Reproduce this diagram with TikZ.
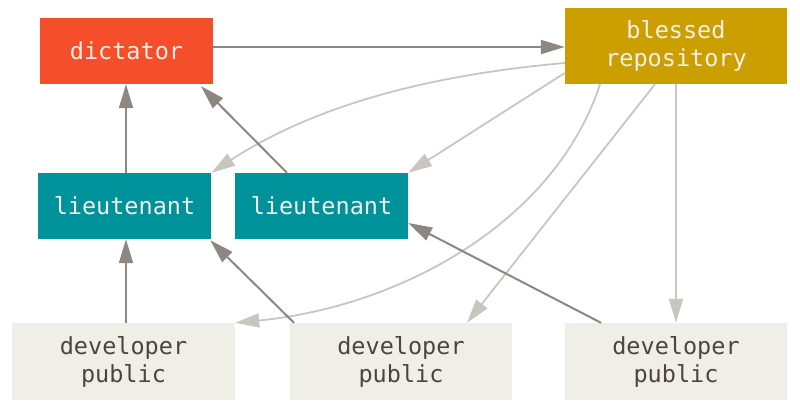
\documentclass[tikz,border=0pt]{standalone}
\usepackage{fontspec}
\setmonofont{DejaVu Sans Mono}
\usetikzlibrary{arrows.meta,calc}
\definecolor{dictred}{HTML}{F44E2A}
\definecolor{blessgold}{HTML}{CC9F00}
\definecolor{lieuteal}{HTML}{00929A}
\definecolor{devgrey}{HTML}{F0EFE7}
\definecolor{devtext}{HTML}{4E443C}
\definecolor{boxtext}{HTML}{F0EFE7}
\definecolor{pushgrey}{HTML}{8D8781}
\definecolor{pullgrey}{HTML}{C9C6C0}
\tikzset{
	box/.style={inner sep=0pt, align=center, font=\ttfamily\fontsize{23.5}{28}\selectfont},
	dictbox/.style={box, fill=dictred, text=boxtext, minimum width=173pt, minimum height=66pt},
	blessbox/.style={box, fill=blessgold, text=boxtext, minimum width=222pt, minimum height=76pt},
	lieubox/.style={box, fill=lieuteal, text=boxtext, minimum width=173pt, minimum height=66pt},
	devbox/.style={box, fill=devgrey, text=devtext, minimum width=222pt, minimum height=77pt},
	push/.style={-{Triangle[length=24pt,width=14pt]}, line width=2pt, color=pushgrey},
	pull/.style={-{Triangle[length=24pt,width=14pt]}, line width=1.8pt, color=pullgrey},
}
\begin{document}
\begin{tikzpicture}[x=1pt, y=1pt]
		%%%%% START %%%%%
		\useasboundingbox (0, 0) rectangle (800, 412);
		
		\node[dictbox] (dictator) at (126.5, 361) {dictator};
		\node[blessbox] (blessed) at (676, 366) {blessed\\repository};
		
		\node[lieubox] (lieut1) at (124.5, 206) {lieutenant};
		\node[lieubox] (lieut2) at (321.5, 206) {lieutenant};
		
		\node[devbox, minimum width=223pt] (dev1) at (123.5, 50.5) {developer\\public};
		\node[devbox] (dev2) at (401, 50.5) {developer\\public};
		\node[devbox] (dev3) at (676, 50.5) {developer\\public};
		
		% pulls from the blessed repository
		\draw[pull] ([yshift=-17pt]blessed.west) .. controls +(-125, -11) and +(109, 71) .. (lieut1.north east);
		\draw[pull] ([yshift=-27pt]blessed.west) -- (lieut2.north east);
		\draw[pull] ([xshift=-76pt]blessed.south) .. controls +(-45, -138) and +(165, 16) .. (dev1.north east);
		\draw[pull] ([xshift=-21pt]blessed.south) -- ([xshift=66pt]dev2.north);
		\draw[pull] (blessed.south) -- (dev3.north);
		
		% pushes up the chain
		\draw[push] ([yshift=4pt]dictator.east) -- ([yshift=-1pt]blessed.west);
		\draw[push] ([xshift=1.5pt]lieut1.north) -- ([xshift=-0.5pt]dictator.south);
		\draw[push] ([xshift=-34.5pt]lieut2.north) -- ([xshift=74.5pt, yshift=-2pt]dictator.south);
		\draw[push] ([xshift=2.5pt]dev1.north) -- ([xshift=1.5pt]lieut1.south);
		\draw[push] ([xshift=-107pt]dev2.north) -- ([xshift=-1pt, yshift=-1pt]lieut1.south east);
		\draw[push] ([xshift=-75pt]dev3.north) -- ([yshift=-17pt]lieut2.east);
		
		%%%%% END %%%%%
	\end{tikzpicture}
\end{document}
